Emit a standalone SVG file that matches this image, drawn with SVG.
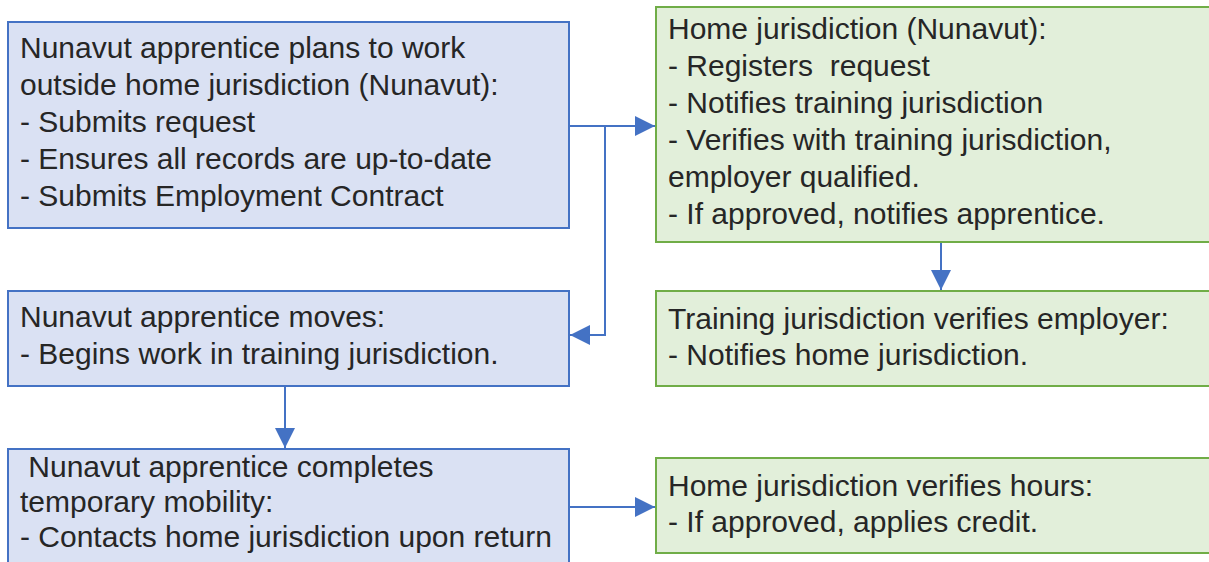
<svg xmlns="http://www.w3.org/2000/svg" width="1209" height="562" viewBox="0 0 1209 562">
<style>
  .blue { fill: #dae1f3; stroke: #4472c4; stroke-width: 2; }
  .green { fill: #e2efda; stroke: #70ad47; stroke-width: 2; }
  text { font-family: "Liberation Sans", Arial, sans-serif; font-size: 30px; fill: #262626; white-space: pre; }
  .conn { fill: none; stroke: #4472c4; stroke-width: 2; }
</style>
<defs>
  <marker id="arr" viewBox="0 0 20 20" refX="20" refY="10" markerWidth="20" markerHeight="20" markerUnits="userSpaceOnUse" orient="auto">
    <path d="M0,0 L20,10 L0,20 Z" fill="#4472c4"/>
  </marker>
</defs>
<rect width="1209" height="562" fill="#ffffff"/>
<g id="connectors">
  <path class="conn" d="M569,126 L655,126" marker-end="url(#arr)"/>
  <path class="conn" d="M605,126 L605,335 L570,335" marker-end="url(#arr)"/>
  <path class="conn" d="M941,243 L941,290" marker-end="url(#arr)"/>
  <path class="conn" d="M285,387 L285,448" marker-end="url(#arr)"/>
  <path class="conn" d="M569,507 L655,507" marker-end="url(#arr)"/>
</g>
<g id="node1">
  <rect class="blue" x="8" y="22" width="561" height="206"/>
  <text x="20" y="58">Nunavut apprentice plans to work</text>
  <text x="20" y="95">outside home jurisdiction (Nunavut):</text>
  <text x="20" y="132">- Submits request</text>
  <text x="20" y="169">- Ensures all records are up-to-date</text>
  <text x="20" y="206">- Submits Employment Contract</text>
</g>
<g id="node2">
  <rect class="green" x="656" y="7" width="560" height="235"/>
  <text x="668" y="39">Home jurisdiction (Nunavut):</text>
  <text x="668" y="76">- Registers  request</text>
  <text x="668" y="113">- Notifies training jurisdiction</text>
  <text x="668" y="150">- Verifies with training jurisdiction,</text>
  <text x="668" y="187">employer qualified.</text>
  <text x="668" y="224">- If approved, notifies apprentice.</text>
</g>
<g id="node3">
  <rect class="green" x="656" y="291" width="560" height="95"/>
  <text x="668" y="329">Training jurisdiction verifies employer:</text>
  <text x="668" y="365">- Notifies home jurisdiction.</text>
</g>
<g id="node4">
  <rect class="blue" x="8" y="291" width="561" height="95"/>
  <text x="20" y="327">Nunavut apprentice moves:</text>
  <text x="20" y="364">- Begins work in training jurisdiction.</text>
</g>
<g id="node5">
  <rect class="blue" x="8" y="449" width="561" height="130"/>
  <text x="20" y="477"> Nunavut apprentice completes</text>
  <text x="20" y="512">temporary mobility:</text>
  <text x="20" y="547">- Contacts home jurisdiction upon return</text>
</g>
<g id="node6">
  <rect class="green" x="656" y="458" width="560" height="95"/>
  <text x="668" y="496">Home jurisdiction verifies hours:</text>
  <text x="668" y="532">- If approved, applies credit.</text>
</g>
</svg>
